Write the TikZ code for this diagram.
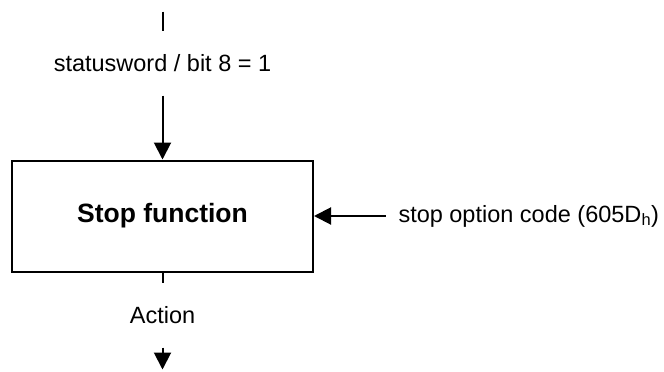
\documentclass[tikz,border=0pt]{standalone}
\usepackage{fontspec}
\setmainfont{Liberation Sans}
\usetikzlibrary{arrows.meta,positioning}

\begin{document}
\begin{tikzpicture}[x=1pt, y=-1pt, line width=2pt, >={Triangle[length=17pt, width=17pt]}, block/.style={rectangle, draw, minimum width=301pt, minimum height=111pt, font=\fontsize{26.5}{32}\selectfont\bfseries}, lbl/.style={inner sep=0pt, font=\fontsize{23.5}{28}\selectfont}]

    \useasboundingbox (0,0) rectangle (664,372);

    \node[block] (stop) at (162.5,216) {Stop function};
    \node[coordinate, above=64pt of stop.north] (in) {};
    \node[coordinate, above=129pt of stop.north] (top) {};
    \node[coordinate, above=19pt of top] (topend) {};
    \node[coordinate, right=71.5pt of stop.east] (opt) {};
    \node[lbl, right=12pt of opt] (code) {stop option code (605D\textsubscript{h})};
    \node[coordinate, below=10pt of stop.south] (out) {};
    \node[coordinate, below=75pt of stop.south] (act) {};
    \node[coordinate, below=22pt of act] (end) {};

    \draw (topend) -- (top);
    \path (top) -- node[lbl] (status) {statusword / bit 8 = 1} (in);
    \draw[->] (in) -- (stop);
    \draw[->] (opt) -- (stop);
    \draw (stop) -- (out);
    \path (out) -- node[lbl] (action) {Action} (act);
    \draw[->] (act) -- (end);

  \end{tikzpicture}
\end{document}
